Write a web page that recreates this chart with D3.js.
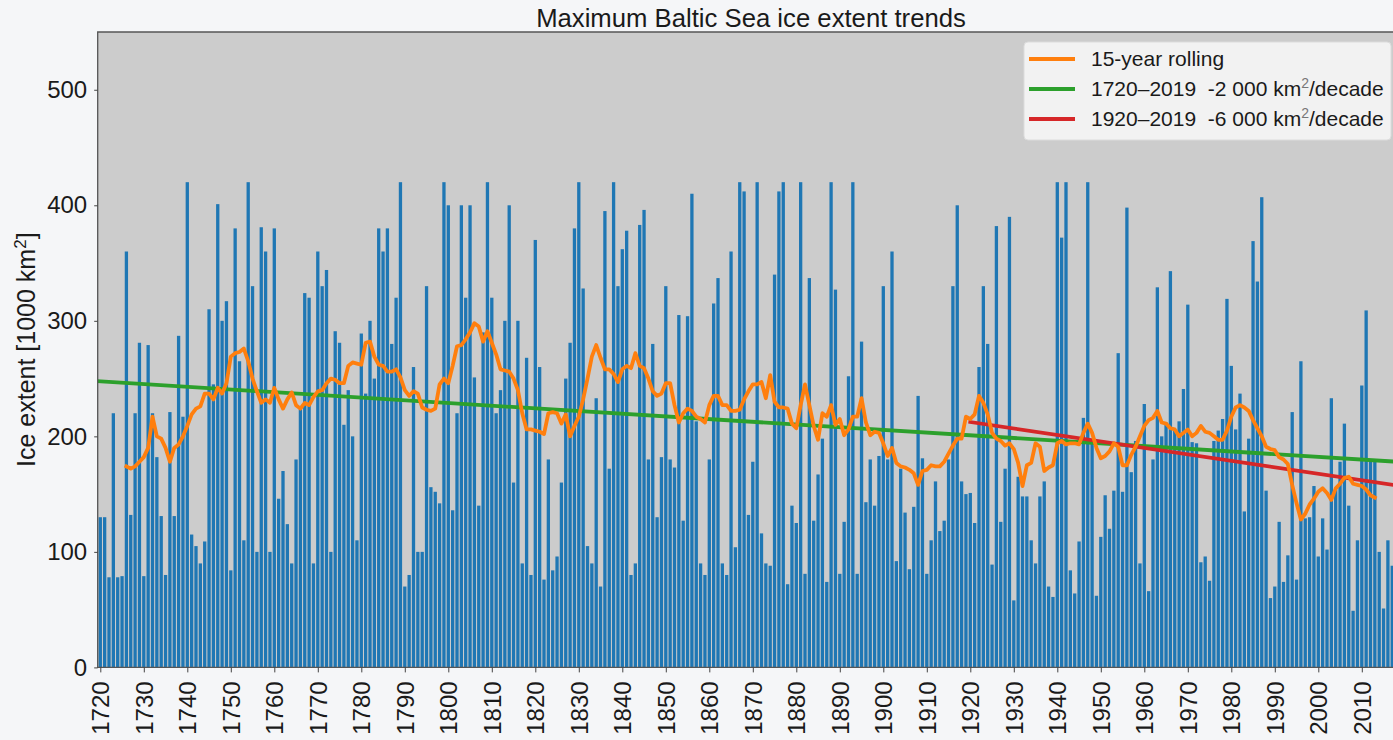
<!DOCTYPE html>
<html>
<head>
<meta charset="utf-8">
<script src="https://cdn.jsdelivr.net/npm/d3@7"></script>
<style>
  body { margin: 0; background: #f5f6f8; }
  text { font-family: "Liberation Sans", Arial, sans-serif; fill: #1a1a1a; }
</style>
</head>
<body>
<script>
var width = 1393; // canvas width
var height = 740; // canvas height

// maximum ice extent, 1000 km2, one value per winter from 1720
var firstYear = 1720;
var ice = [
  130, 130, 78, 220, 78, 79, 360, 132, 220, 281,
  79, 279, 220, 182, 131, 80, 221, 131, 287, 217,
  420, 115, 105, 90, 109, 310, 245, 401, 300, 317,
  84, 380, 265, 110, 420, 330, 100, 381, 360, 100,
  380, 146, 170, 124, 90, 180, 225, 324, 320, 90,
  360, 330, 344, 100, 291, 281, 210, 240, 200, 110,
  289, 237, 300, 250, 380, 360, 380, 280, 320, 420,
  70, 80, 260, 100, 100, 330, 156, 152, 142, 420,
  400, 136, 220, 400, 320, 400, 251, 140, 290, 420,
  320, 220, 240, 300, 400, 160, 300, 90, 268, 80,
  370, 260, 76, 180, 84, 96, 160, 250, 281, 380,
  420, 328, 105, 90, 233, 70, 395, 172, 420, 330,
  362, 378, 80, 90, 383, 396, 180, 280, 130, 182,
  330, 180, 173, 305, 127, 304, 410, 213, 90, 80,
  180, 315, 337, 90, 80, 360, 104, 420, 412, 132,
  178, 420, 116, 90, 88, 340, 412, 420, 72, 140,
  125, 420, 81, 337, 127, 167, 198, 74, 420, 327,
  81, 126, 252, 420, 81, 282, 143, 180, 140, 183,
  330, 180, 360, 92, 172, 134, 85, 139, 235, 181,
  81, 110, 161, 118, 127, 180, 330, 400, 161, 150,
  151, 125, 260, 330, 280, 89, 382, 126, 172, 390,
  58, 165, 148, 148, 110, 90, 148, 161, 70, 61,
  420, 372, 420, 84, 64, 109, 216, 420, 195, 62,
  113, 149, 120, 153, 272, 152, 398, 169, 196, 90,
  228, 66, 180, 329, 200, 212, 343, 205, 213, 241,
  314, 195, 194, 91, 96, 75, 196, 205, 215, 319,
  261, 206, 237, 135, 198, 369, 334, 407, 153, 60,
  70, 126, 74, 97, 221, 76, 265, 129, 130, 157,
  96, 129, 102, 233, 154, 178, 211, 140, 49, 110,
  244, 309, 178, 178, 100, 51, 110, 88
];

// 15-year rolling line, from 1726
var rollStart = 1726;
var rolling = [
  174, 172, 174, 178,
  182, 190, 217, 200, 198, 190, 178, 190, 193, 200,
  209, 219, 224, 226, 237, 237, 232, 242, 237, 246,
  269, 272, 273, 276, 265, 250, 239, 229, 232, 229,
  242, 232, 224, 232, 238, 227, 224, 229, 227, 234,
  239, 240, 246, 250, 249, 246, 246, 261, 264, 263,
  262, 281, 282, 269, 262, 261, 256, 256, 258, 251,
  240, 235, 239, 237, 225, 223, 222, 224, 245, 250,
  246, 261, 278, 279, 284, 290, 298, 295, 282, 291,
  281, 271, 258, 257, 256, 250, 240, 220, 206, 206,
  205, 204, 202, 220, 221, 220, 211, 219, 200, 209,
  217, 232, 250, 269, 279, 268, 258, 258, 254, 247,
  258, 261, 259, 272, 261, 259, 250, 239, 235, 237,
  246, 246, 227, 212, 220, 224, 222, 217, 215, 212,
  227, 235, 235, 227, 227, 222, 222, 223, 232, 239,
  245, 245, 247, 233, 253, 230, 225, 225, 224, 211,
  207, 227, 245, 227, 209, 197, 220, 217, 227, 210,
  215, 201, 206, 217, 217, 233, 212, 201, 204, 203,
  194, 183, 190, 177, 174, 173, 171, 168, 158, 170,
  171, 175, 174, 174, 178, 185, 192, 198, 198, 217,
  215, 219, 235, 229, 219, 203, 198, 196, 192, 194,
  189, 177, 157, 175, 177, 194, 191, 170, 173, 175,
  194, 196, 193, 194, 194, 193, 203, 211, 203, 190,
  181, 183, 187, 194, 191, 175, 175, 184, 191, 200,
  209, 214, 216, 222, 212, 211, 207, 206, 200, 203,
  206, 200, 203, 209, 204, 203, 200, 197, 197, 205,
  217, 225, 227, 225, 222, 214, 207, 200, 191, 189,
  188, 182, 180, 176, 158, 142, 128, 133, 141, 146,
  152, 155, 151, 145, 155, 159, 164, 165, 159, 158,
  157, 154, 149, 147
];

// linear trends, end points
var trendAllYears = [1719, 2019],
  trendAll = [247.8, 177.8];
var trendRecentYears = [1920, 2019],
  trendRecent = [212.4, 157];

var xTicks = d3.range(1720, 2011, 10),
  yTicks = [0, 100, 200, 300, 400, 500];

var legendLabels = [
  ["15-year rolling"],
  ["1720\u20132019  -2 000 km", "2", "/decade"],
  ["1920\u20132019  -6 000 km", "2", "/decade"]
];
var colorSet = ["#ff7f0e", "#2ca02c", "#d62728"];

var years = d3.range(firstYear, firstYear + ice.length);
var rollYears = d3.range(rollStart, rollStart + rolling.length);

var plotLeft = 97.7, plotTop = 32, plotBottom = 667.4;

var svg = d3.select("body")
  .append("svg")
  .attr("width", width)
  .attr("height", height);

var x = d3.scaleLinear()
  .domain([1720, 2010])
  .range([100.3, 1361.8]);

var y = d3.scaleLinear()
  .domain([0, 550])
  .range([plotBottom, plotTop]);

var barW = 3.3;

svg.append("clipPath")
  .attr("id", "plot")
  .append("rect")
  .attr("x", plotLeft)
  .attr("y", plotTop)
  .attr("width", width)
  .attr("height", plotBottom - plotTop);

// plot background
svg.append("rect")
  .attr("x", plotLeft)
  .attr("y", plotTop)
  .attr("width", width)
  .attr("height", plotBottom - plotTop)
  .attr("fill", "#cccccc");

var plot = svg.append("g")
  .attr("clip-path", "url(#plot)");

plot.selectAll(".bar")
  .data(ice)
  .enter()
  .append("rect")
  .attr("class", "bar")
  .attr("x", function(d, i) {
    return x(years[i]) - barW / 2;
  })
  .attr("y", function(d) {
    return y(d);
  })
  .attr("width", barW)
  .attr("height", function(d) {
    return y(0) - y(d);
  })
  .attr("fill", "#1f77b4");

var line = d3.line()
  .x(function(d) { return x(d[0]); })
  .y(function(d) { return y(d[1]); });

plot.append("path")
  .datum(d3.zip(trendAllYears, trendAll))
  .attr("d", line)
  .attr("fill", "none")
  .attr("stroke", colorSet[1])
  .attr("stroke-width", 3.8);

plot.append("path")
  .datum(d3.zip(trendRecentYears, trendRecent))
  .attr("d", line)
  .attr("fill", "none")
  .attr("stroke", colorSet[2])
  .attr("stroke-width", 3.8)
  .attr("stroke-linecap", "square");

plot.append("path")
  .datum(d3.zip(rollYears, rolling))
  .attr("d", line)
  .attr("fill", "none")
  .attr("stroke", colorSet[0])
  .attr("stroke-width", 3.8)
  .attr("stroke-linejoin", "round")
  .attr("stroke-linecap", "square");

// frame
svg.append("path")
  .attr("d", "M" + width + "," + plotTop + "H" + plotLeft + "V" + plotBottom + "H" + width)
  .attr("fill", "none")
  .attr("stroke", "#555")
  .attr("stroke-width", 1.3);

// axes
var yAxis = svg.append("g")
  .attr("transform", "translate(" + plotLeft + ",0)")
  .call(d3.axisLeft(y).tickValues(yTicks).tickSize(3.5).tickPadding(7));

var xAxis = svg.append("g")
  .attr("transform", "translate(0," + plotBottom + ")")
  .call(d3.axisBottom(x).tickValues(xTicks).tickFormat(d3.format("d")).tickSize(5));

[yAxis, xAxis].forEach(function(a) {
  a.select(".domain").remove();
  a.selectAll("line").attr("stroke", "#444");
  a.selectAll("text")
    .attr("font-family", "Liberation Sans, Arial, sans-serif")
    .attr("font-size", 24)
    .attr("fill", "#1a1a1a");
});

xAxis.selectAll("text")
  .attr("transform", "rotate(-90)")
  .attr("text-anchor", "end")
  .attr("x", -14)
  .attr("y", 0)
  .attr("dy", "0.35em");

// title
svg.append("text")
  .attr("x", 751)
  .attr("y", 27)
  .attr("text-anchor", "middle")
  .attr("font-size", 25.7)
  .text("Maximum Baltic Sea ice extent trends");

// y label
var yLabel = svg.append("text")
  .attr("transform", "translate(35," + (plotTop + plotBottom) / 2 + ") rotate(-90)")
  .attr("text-anchor", "middle")
  .attr("font-size", 25);
yLabel.append("tspan").text("Ice extent [1000 km");
yLabel.append("tspan").attr("dy", -9).attr("font-size", 17).text("2");
yLabel.append("tspan").attr("dy", 9).text("]");

// legend
var legend = svg.append("g")
  .attr("transform", "translate(1024,42)");

legend.append("rect")
  .attr("width", 367)
  .attr("height", 98)
  .attr("rx", 4)
  .attr("fill", "#f2f2f2")
  .attr("stroke", "#dcdcdc");

var item = legend.selectAll(".item")
  .data(legendLabels)
  .enter()
  .append("g")
  .attr("class", "item")
  .attr("transform", function(d, i) {
    return "translate(0," + (17 + i * 30) + ")";
  });

item.append("line")
  .attr("x1", 5)
  .attr("x2", 51)
  .attr("stroke", function(d, i) { return colorSet[i]; })
  .attr("stroke-width", 3.8);

var label = item.append("text")
  .attr("x", 67)
  .attr("dy", "0.35em")
  .attr("font-size", 21)
  .attr("xml:space", "preserve")
  .style("white-space", "pre");

label.each(function(d) {
  var t = d3.select(this);
  t.append("tspan").text(d[0]);
  if (d.length > 1) {
    t.append("tspan").attr("dy", -8).attr("font-size", 14).attr("fill", "#777").text(d[1]);
    t.append("tspan").attr("dy", 8).text(d[2]);
  }
});
</script>
</body>
</html>
